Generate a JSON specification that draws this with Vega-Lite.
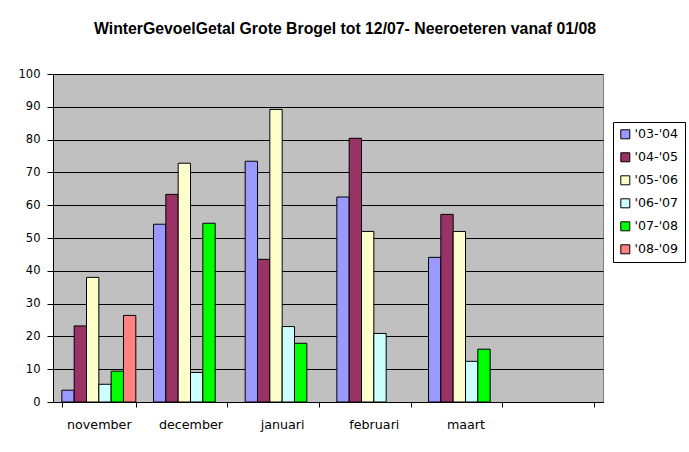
{
  "$schema": "https://vega.github.io/schema/vega-lite/v6.json",
  "width": 550,
  "height": 328,
  "autosize": "none",
  "padding": {"left": 53, "top": 74, "right": 86, "bottom": 50},
  "background": "white",
  "title": {
    "text": "WinterGevoelGetal Grote Brogel tot 12/07- Neeroeteren vanaf 01/08",
    "font": "Liberation Sans",
    "fontSize": 15.8,
    "fontWeight": "bold",
    "color": "black",
    "anchor": "middle",
    "baseline": "alphabetic",
    "dx": 17,
    "offset": 18
  },
  "data": {
    "values": [
      {"maand": "november", "seizoen": "'03-'04", "waarde": 3.6},
      {"maand": "november", "seizoen": "'04-'05", "waarde": 23.2},
      {"maand": "november", "seizoen": "'05-'06", "waarde": 38.0},
      {"maand": "november", "seizoen": "'06-'07", "waarde": 5.4},
      {"maand": "november", "seizoen": "'07-'08", "waarde": 9.4},
      {"maand": "november", "seizoen": "'08-'09", "waarde": 26.4},
      {"maand": "december", "seizoen": "'03-'04", "waarde": 54.2},
      {"maand": "december", "seizoen": "'04-'05", "waarde": 63.3},
      {"maand": "december", "seizoen": "'05-'06", "waarde": 72.8},
      {"maand": "december", "seizoen": "'06-'07", "waarde": 9.0},
      {"maand": "december", "seizoen": "'07-'08", "waarde": 54.5},
      {"maand": "januari", "seizoen": "'03-'04", "waarde": 73.4},
      {"maand": "januari", "seizoen": "'04-'05", "waarde": 43.5},
      {"maand": "januari", "seizoen": "'05-'06", "waarde": 89.2},
      {"maand": "januari", "seizoen": "'06-'07", "waarde": 23.0},
      {"maand": "januari", "seizoen": "'07-'08", "waarde": 17.9},
      {"maand": "februari", "seizoen": "'03-'04", "waarde": 62.5},
      {"maand": "februari", "seizoen": "'04-'05", "waarde": 80.4},
      {"maand": "februari", "seizoen": "'05-'06", "waarde": 52.0},
      {"maand": "februari", "seizoen": "'06-'07", "waarde": 20.9},
      {"maand": "maart", "seizoen": "'03-'04", "waarde": 44.1},
      {"maand": "maart", "seizoen": "'04-'05", "waarde": 57.2},
      {"maand": "maart", "seizoen": "'05-'06", "waarde": 52.0},
      {"maand": "maart", "seizoen": "'06-'07", "waarde": 12.4},
      {"maand": "maart", "seizoen": "'07-'08", "waarde": 16.1}
    ]
  },
  "mark": {"type": "bar", "stroke": "black", "strokeWidth": 1},
  "encoding": {
    "x": {
      "field": "maand",
      "type": "nominal",
      "scale": {
        "domain": ["november", "december", "januari", "februari", "maart", " "],
        "paddingInner": 0.193,
        "paddingOuter": 0.0965
      },
      "axis": {
        "title": null,
        "labelAngle": 0,
        "labelFont": "DejaVu Sans",
        "labelFontSize": 12.7,
        "labelColor": "black",
        "labelPadding": 11,
        "tickBand": "extent",
        "tickSize": 5,
        "tickColor": "black",
        "domainColor": "black",
        "grid": false
      }
    },
    "xOffset": {
      "field": "seizoen",
      "type": "nominal",
      "scale": {
        "domain": ["'03-'04", "'04-'05", "'05-'06", "'06-'07", "'07-'08", "'08-'09"],
        "paddingInner": 0,
        "paddingOuter": 0
      }
    },
    "y": {
      "field": "waarde",
      "type": "quantitative",
      "scale": {"domain": [0, 100], "nice": false},
      "axis": {
        "title": null,
        "values": [0, 10, 20, 30, 40, 50, 60, 70, 80, 90, 100],
        "labelFont": "DejaVu Sans",
        "labelFontSize": 11.5,
        "labelColor": "black",
        "labelPadding": 7,
        "tickSize": 6,
        "tickColor": "black",
        "domainColor": "black",
        "grid": true,
        "gridColor": "black",
        "gridOpacity": 1
      }
    },
    "color": {
      "field": "seizoen",
      "type": "nominal",
      "scale": {
        "domain": ["'03-'04", "'04-'05", "'05-'06", "'06-'07", "'07-'08", "'08-'09"],
        "range": ["#9999FF", "#993366", "#FFFFCC", "#CCFFFF", "#00FF00", "#FF8080"]
      },
      "legend": {
        "title": null,
        "orient": "none",
        "legendX": 560,
        "legendY": 48,
        "strokeColor": "black",
        "fillColor": "white",
        "padding": 6,
        "symbolType": "square",
        "symbolSize": 81,
        "symbolStrokeColor": "black",
        "symbolStrokeWidth": 1,
        "symbolOpacity": 1,
        "labelFont": "DejaVu Sans",
        "labelFontSize": 12.6,
        "labelColor": "black",
        "labelOffset": 3,
        "rowPadding": 9
      }
    }
  },
  "config": {
    "view": {"fill": "#C0C0C0", "stroke": "#808080", "strokeWidth": 1},
    "axis": {"domainWidth": 1, "tickWidth": 1, "gridWidth": 1}
  }
}
